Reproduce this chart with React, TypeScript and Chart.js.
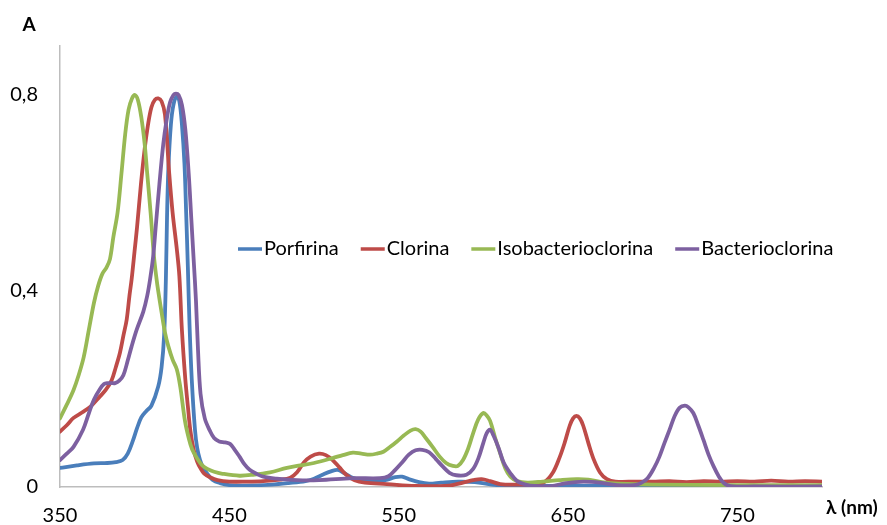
import React, { useEffect, useRef } from "react";
import { Chart, registerables } from "chart.js";

Chart.register(...registerables);

// ---- Data (wavelength in nm, absorbance A) ----
const porfirinaX = [350, 360, 370, 378, 383, 387, 390, 393, 395.5, 398, 401, 404, 408, 410, 411.5, 412.5, 413.2, 414, 415.5, 417, 419, 420.5, 422, 423.5, 424.5, 425.5, 426.5, 427.8, 429.7, 431, 432.7, 434.5, 436.6, 440, 444.5, 450, 460, 475, 485, 495, 500, 505, 510, 514, 518, 522, 528, 535, 542, 548, 552, 556, 562, 568, 575, 585, 595, 605, 615, 630, 650, 700, 750, 800];
const porfirinaY = [0.039, 0.044, 0.048, 0.049, 0.051, 0.055, 0.068, 0.094, 0.12, 0.142, 0.155, 0.166, 0.205, 0.245, 0.31, 0.42, 0.55, 0.65, 0.74, 0.78, 0.797, 0.787, 0.74, 0.66, 0.56, 0.45, 0.33, 0.22, 0.117, 0.08, 0.055, 0.04, 0.029, 0.015, 0.008, 0.004, 0.003, 0.005, 0.008, 0.012, 0.017, 0.025, 0.032, 0.035, 0.028, 0.02, 0.014, 0.013, 0.014, 0.02, 0.021, 0.016, 0.01, 0.007, 0.009, 0.011, 0.01, 0.005, 0.002, 0.002, 0.003, 0.001, 0.001, 0.001];

const clorinaX = [350, 354, 358, 363, 368, 373.6, 377, 380.5, 383, 385.4, 387.5, 389.4, 391, 392.3, 394, 395.5, 397.8, 400, 402, 404, 406, 408, 410, 412, 414.5, 416.5, 419, 420.5, 422, 424, 425.5, 427, 429, 431, 433, 435, 438.6, 443, 450, 460, 470, 480, 486, 490, 494, 498, 503, 507, 511, 515, 519, 524, 530, 543, 560, 580, 588, 594, 599, 604, 610, 620, 630, 636, 641, 645, 648, 651, 653, 655, 657, 659, 662, 665, 669, 673, 678, 690, 700, 710, 720, 730, 740, 750, 760, 770, 780, 790, 800];
const clorinaY = [0.113, 0.126, 0.141, 0.152, 0.164, 0.185, 0.198, 0.218, 0.245, 0.274, 0.31, 0.342, 0.39, 0.424, 0.48, 0.53, 0.618, 0.69, 0.74, 0.775, 0.79, 0.793, 0.787, 0.76, 0.64, 0.56, 0.485, 0.43, 0.32, 0.22, 0.165, 0.115, 0.075, 0.052, 0.038, 0.028, 0.02, 0.014, 0.011, 0.011, 0.012, 0.015, 0.019, 0.03, 0.05, 0.062, 0.068, 0.065, 0.055, 0.04, 0.025, 0.014, 0.009, 0.006, 0.002, 0.003, 0.009, 0.014, 0.016, 0.012, 0.006, 0.005, 0.006, 0.01, 0.029, 0.06, 0.09, 0.125, 0.14, 0.145, 0.14, 0.125, 0.09, 0.058, 0.029, 0.016, 0.011, 0.011, 0.011, 0.012, 0.01, 0.012, 0.011, 0.012, 0.011, 0.013, 0.011, 0.012, 0.011];

const isobacterioclorinaX = [350, 354, 358, 361, 364, 367, 370, 372.5, 375, 377.5, 379.5, 381.5, 384, 386.3, 388.5, 390.5, 392.5, 394.3, 396, 398, 400, 401.5, 403.5, 405.5, 407, 408, 410, 412, 414, 416.5, 419, 421, 423.8, 426, 428, 431, 434, 437, 441, 446, 456, 464, 474, 484, 492, 500, 511, 517, 523, 528, 533, 537, 541, 545, 549, 553, 557, 560, 563, 566, 570, 574, 578, 582, 585, 588, 591, 594, 597, 600, 602, 604, 607, 610, 613, 616, 620, 626, 635, 645, 655, 662, 670, 680, 700, 750, 800];
const isobacterioclorinaY = [0.14, 0.168, 0.198, 0.228, 0.265, 0.32, 0.375, 0.41, 0.435, 0.448, 0.465, 0.51, 0.56, 0.64, 0.72, 0.77, 0.793, 0.8, 0.79, 0.755, 0.7, 0.64, 0.56, 0.47, 0.425, 0.4, 0.356, 0.315, 0.287, 0.26, 0.24, 0.205, 0.135, 0.1, 0.077, 0.058, 0.044, 0.037, 0.031, 0.027, 0.023, 0.025, 0.03, 0.039, 0.044, 0.049, 0.059, 0.065, 0.07, 0.068, 0.066, 0.068, 0.072, 0.082, 0.093, 0.105, 0.115, 0.118, 0.113, 0.1, 0.082, 0.063, 0.049, 0.043, 0.043, 0.055, 0.078, 0.11, 0.138, 0.151, 0.146, 0.135, 0.1, 0.068, 0.038, 0.021, 0.012, 0.009, 0.011, 0.014, 0.016, 0.015, 0.01, 0.007, 0.005, 0.004, 0.004];

const bacterioclorinaX = [350, 354, 358, 363.6, 367, 370, 373.6, 376, 378, 380.5, 382.5, 385, 387.4, 390, 392.3, 395.3, 399.2, 401.5, 403.2, 405, 406.5, 408.7, 411, 413, 415, 417, 418.5, 420, 422, 424, 426, 427.5, 429, 430.3, 431.5, 433, 435.5, 438.5, 441, 444, 447.5, 450.4, 453, 456, 459, 462, 466, 470, 478, 490, 503, 523, 539, 544, 548, 552, 556, 560, 564, 568, 572, 576, 580, 584, 590, 594, 597, 600, 602, 604, 606, 609, 612, 616, 620, 625, 630, 640, 649, 659, 669, 679, 689, 693, 697, 701, 704, 707, 710, 713, 716, 719, 721, 724, 727, 730, 733, 736, 739, 742, 746, 760, 800];
const bacterioclorinaY = [0.055, 0.068, 0.082, 0.117, 0.15, 0.178, 0.2, 0.21, 0.212, 0.212, 0.212, 0.217, 0.228, 0.258, 0.287, 0.321, 0.358, 0.39, 0.424, 0.47, 0.53, 0.618, 0.7, 0.75, 0.785, 0.8, 0.803, 0.8, 0.78, 0.73, 0.64, 0.55, 0.46, 0.38, 0.28, 0.19, 0.14, 0.115, 0.1, 0.093, 0.091, 0.088, 0.077, 0.062, 0.046, 0.035, 0.027, 0.021, 0.017, 0.014, 0.014, 0.018, 0.018, 0.022, 0.035, 0.05, 0.066, 0.075, 0.076, 0.071, 0.057, 0.042, 0.029, 0.024, 0.025, 0.037, 0.058, 0.09, 0.11, 0.117, 0.105, 0.08, 0.05, 0.028, 0.012, 0.005, 0.002, 0.002, 0.008, 0.011, 0.009, 0.004, 0.004, 0.008, 0.018, 0.04, 0.062, 0.09, 0.117, 0.145, 0.162, 0.166, 0.163, 0.151, 0.125, 0.096, 0.066, 0.042, 0.022, 0.008, 0.002, 0.001, 0.001];

const seriesNames = ["Porfirina", "Clorina", "Isobacterioclorina", "Bacterioclorina"];
const seriesColors = ["#4a7ebb", "#be4b48", "#98b954", "#7d60a0"];
const xTicks = [350, 450, 550, 650, 750];
const yTicks = [0, 0.4, 0.8];
const yTitle = "A";
const xTitle = "λ (nm)";

const FONT = "Lato, 'Open Sans', 'DejaVu Sans', sans-serif";

function toPoints(xs: number[], ys: number[]) {
  return xs.map((x, i) => ({ x, y: ys[i] }));
}

const overlayPlugin = {
  id: "overlay",
  afterDraw(chart: any) {
    const ctx = chart.ctx as CanvasRenderingContext2D;
    ctx.save();
    ctx.fillStyle = "#000";
    ctx.textBaseline = "middle";
    ctx.font = `bold 19px ${FONT}`;
    ctx.textAlign = "center";
    ctx.fillText(yTitle, 29, 25);
    ctx.textAlign = "left";
    ctx.fillText(xTitle, 826, 508);

    // legend inside the plot
    ctx.font = `20px ${FONT}`;
    let x = 238;
    const y = 249;
    seriesNames.forEach((name, i) => {
      ctx.strokeStyle = seriesColors[i];
      ctx.lineWidth = 3.5;
      ctx.lineCap = "butt";
      ctx.beginPath();
      ctx.moveTo(x, y);
      ctx.lineTo(x + 24, y);
      ctx.stroke();
      x += 26;
      ctx.fillStyle = "#000";
      ctx.fillText(name, x, y);
      x += ctx.measureText(name).width + 22;
    });
    ctx.restore();
  },
};

export default function App() {
  const ref = useRef<HTMLCanvasElement | null>(null);
  useEffect(() => {
    if (!ref.current) return;
    const datasets = [
      { xs: porfirinaX, ys: porfirinaY },
      { xs: clorinaX, ys: clorinaY },
      { xs: isobacterioclorinaX, ys: isobacterioclorinaY },
      { xs: bacterioclorinaX, ys: bacterioclorinaY },
    ].map((s, i) => ({
      label: seriesNames[i],
      data: toPoints(s.xs, s.ys),
      borderColor: seriesColors[i],
      backgroundColor: seriesColors[i],
      borderWidth: 3.8,
      pointRadius: 0,
      fill: false,
      tension: 0.35,
      borderJoinStyle: "round" as const,
      borderCapStyle: "round" as const,
      order: 3 - i,
    }));
    const chart = new Chart(ref.current, {
      type: "line",
      data: { datasets },
      options: {
        animation: false,
        responsive: false,
        layout: { padding: { top: 46, right: 65, bottom: 0, left: 0 } },
        plugins: { legend: { display: false }, tooltip: { enabled: false } },
        scales: {
          x: {
            type: "linear",
            min: 350,
            max: 800,
            afterBuildTicks: (s: any) => {
              s.ticks = xTicks.map((v) => ({ value: v }));
            },
            afterFit: (s: any) => {
              s.height = 38;
            },
            grid: { display: false, drawTicks: false },
            border: { display: true, color: "#bdbdbd", width: 1.5 },
            ticks: {
              autoSkip: false,
              maxRotation: 0,
              padding: 17,
              color: "#000",
              font: { family: FONT, size: 20 },
            },
          },
          y: {
            type: "linear",
            min: 0,
            max: 0.9,
            afterBuildTicks: (s: any) => {
              s.ticks = yTicks.map((v) => ({ value: v }));
            },
            afterFit: (s: any) => {
              s.width = 60;
            },
            grid: { display: false, drawTicks: false },
            border: { display: true, color: "#bdbdbd", width: 1.5 },
            ticks: {
              padding: 22,
              color: "#000",
              font: { family: FONT, size: 20 },
              callback: (v: any) => String(v).replace(".", ","),
            },
          },
        },
      },
      plugins: [overlayPlugin],
    });
    return () => chart.destroy();
  }, []);
  return (
    <canvas
      ref={ref}
      width={887}
      height={525}
      style={{ position: "absolute", left: 0, top: 0, width: 887, height: 525 }}
    />
  );
}
